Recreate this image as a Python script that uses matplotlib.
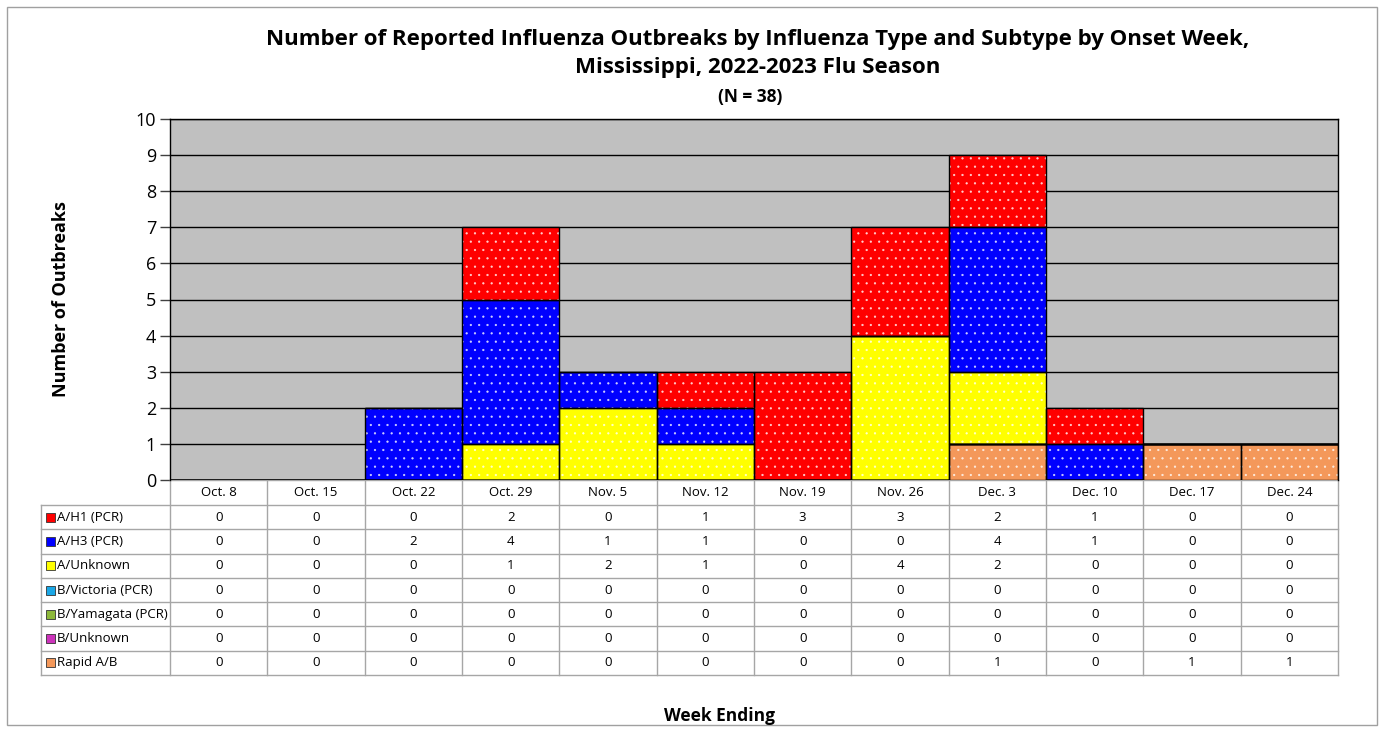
import matplotlib
matplotlib.use("Agg")
import matplotlib.pyplot as plt
from matplotlib.patches import Rectangle
import matplotlib.transforms as mtransforms
import numpy as np

plt.rcParams['font.family'] = ['Open Sans', 'DejaVu Sans']
plt.rcParams['hatch.linewidth'] = 0.4

weeks = ["Oct. 8", "Oct. 15", "Oct. 22", "Oct. 29", "Nov. 5", "Nov. 12",
         "Nov. 19", "Nov. 26", "Dec. 3", "Dec. 10", "Dec. 17", "Dec. 24"]
series_names = ["A/H1 (PCR)", "A/H3 (PCR)", "A/Unknown", "B/Victoria (PCR)",
                "B/Yamagata (PCR)", "B/Unknown", "Rapid A/B"]
a_h1 = [0, 0, 0, 2, 0, 1, 3, 3, 2, 1, 0, 0]
a_h3 = [0, 0, 2, 4, 1, 1, 0, 0, 4, 1, 0, 0]
a_unknown = [0, 0, 0, 1, 2, 1, 0, 4, 2, 0, 0, 0]
b_victoria = [0] * 12
b_yamagata = [0] * 12
b_unknown = [0] * 12
rapid_ab = [0, 0, 0, 0, 0, 0, 0, 0, 1, 0, 1, 1]
series_values = [a_h1, a_h3, a_unknown, b_victoria, b_yamagata, b_unknown, rapid_ab]
colors = ["#FF0000", "#0000FF", "#FFFF00", "#1AA7E6", "#8DB83A", "#CC33BB", "#F4985A"]

W, H = 1382, 731
fig = plt.figure(figsize=(W / 100, H / 100), dpi=100)

def px(l, t, r, b):
    return [l / W, 1 - b / H, (r - l) / W, (b - t) / H]

ax = fig.add_axes(px(170, 119, 1338, 480))
ax.set_facecolor("#C0C0C0")
n = len(weeks)
x = np.arange(n)
ax.set_xlim(-0.5, n - 0.5)
ax.set_ylim(0, 10)
ax.set_yticks(range(0, 11))
ax.set_xticks([])
ax.tick_params(axis='y', length=7, width=1, labelsize=13, pad=3, color="#404040")
ax.yaxis.grid(True, color="black", linewidth=1)
ax.set_axisbelow(True)
for s in ['top', 'left', 'right']:
    ax.spines[s].set_color("black")
    ax.spines[s].set_linewidth(1)
ax.spines['bottom'].set_visible(False)

# stack from bottom: Rapid, B/Unknown, B/Yamagata, B/Victoria, A/Unknown, A/H3, A/H1
bottom = np.zeros(n)
for idx in reversed(range(len(series_names))):
    vals = np.array(series_values[idx], dtype=float)
    ax.bar(x, vals, width=1.0, bottom=bottom, color=colors[idx], edgecolor=(1, 1, 1, 0.75),
           linewidth=0, hatch="..", zorder=2)
    ax.bar(x, vals, width=1.0, bottom=bottom, fill=False, edgecolor="black",
           linewidth=1, zorder=3)
    bottom += vals

ax.set_ylabel("Number of Outbreaks", fontsize=13, fontweight="bold", labelpad=47)

# title
fig.text(758 / W, 1 - 40 / H, "Number of Reported Influenza Outbreaks by Influenza Type and Subtype by Onset Week,",
         ha="center", va="center", fontsize=16, fontweight="bold")
fig.text(758 / W, 1 - 68 / H, "Mississippi, 2022-2023 Flu Season",
         ha="center", va="center", fontsize=16, fontweight="bold")
fig.text(750 / W, 1 - 97 / H, "(N = 38)", ha="center", va="center", fontsize=12.5, fontweight="bold")
fig.text(720 / W, 1 - 716 / H, "Week Ending", ha="center", va="center", fontsize=12.5, fontweight="bold")

# data table
trans = mtransforms.blended_transform_factory(ax.transData, fig.transFigure)
def fy(p):
    return 1 - p / H
left_x = -0.5 - 129 / (1168 / n)
row_edges = [480, 505, 529.3, 553.6, 577.9, 602.1, 626.4, 650.7, 675]
grid_c = "#A6A6A6"
for i, ye in enumerate(row_edges):
    x0 = -0.5 if i == 0 else left_x
    ax.plot([x0, n - 0.5], [fy(ye), fy(ye)], color=grid_c, lw=1, transform=trans, clip_on=False, zorder=1)
for k in range(n + 1):
    ax.plot([k - 0.5, k - 0.5], [fy(480), fy(675)], color=grid_c, lw=1, transform=trans, clip_on=False)
ax.plot([left_x, left_x], [fy(505), fy(675)], color=grid_c, lw=1, transform=trans, clip_on=False)
for k, w in enumerate(weeks):
    ax.text(k, fy(492.5), w, ha="center", va="center", fontsize=9.5, transform=trans)
for r, name in enumerate(series_names):
    yc = (row_edges[r + 1] + row_edges[r + 2]) / 2
    ax.add_patch(Rectangle((left_x + 0.05, fy(yc + 4.5)), 0.09, 9 / H, facecolor=colors[r],
                           edgecolor="#333333", lw=0.6, transform=trans, clip_on=False))
    ax.text(left_x + 0.165, fy(yc), name, ha="left", va="center", fontsize=9.5, transform=trans)
    for k in range(n):
        ax.text(k, fy(yc), str(series_values[r][k]), ha="center", va="center", fontsize=9.5, transform=trans)

fig.patches.append(Rectangle((7 / W, 1 - 725 / H), 1370 / W, 718 / H, fill=False,
                             edgecolor="#A0A0A0", lw=1, transform=fig.transFigure))

fig.savefig("out.png", dpi=100)
